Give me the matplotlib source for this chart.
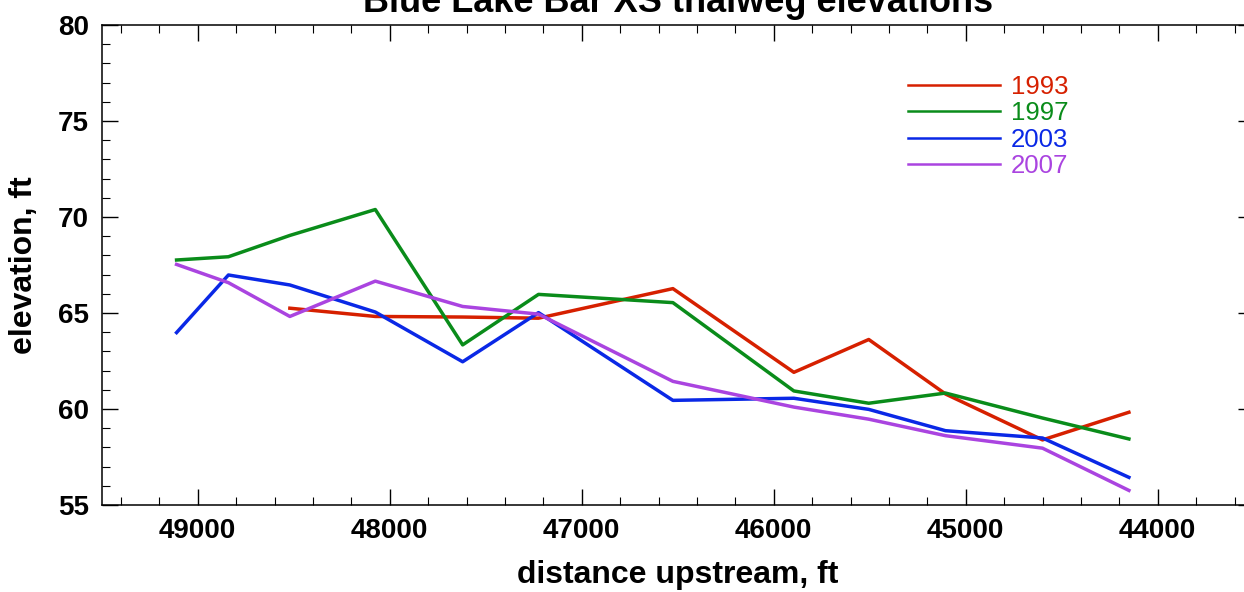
import matplotlib
matplotlib.use("Agg")
import matplotlib.pyplot as plt
from matplotlib.ticker import MultipleLocator

plt.rcParams['font.family'] = ['Liberation Sans', 'DejaVu Sans']

# cross-section locations (distance upstream, ft)
dist = [49110, 48840, 48520, 48075, 47620, 47225, 46525, 45895, 45505, 45105, 44600, 44150]

# thalweg elevations, ft (1993 survey starts at the third section)
elev_1993 = [None, None, 65.25, 64.82, 64.79, 64.73, 66.27, 61.91, 63.62, 60.78, 58.39, 59.83]
elev_1997 = [67.76, 67.93, 69.04, 70.39, 63.34, 65.97, 65.54, 60.94, 60.30, 60.83, 59.53, 58.44]
elev_2003 = [63.98, 66.98, 66.46, 65.05, 62.46, 65.02, 60.45, 60.56, 59.98, 58.87, 58.49, 56.44]
elev_2007 = [67.53, 66.58, 64.82, 66.66, 65.34, 64.94, 61.44, 60.10, 59.47, 58.61, 57.96, 55.76]

years = ['1993', '1997', '2003', '2007']
colors = ['#d62000', '#0a8c1a', '#0a28e6', '#aa44e0']

fig = plt.figure(figsize=(12.44, 5.92), dpi=100)
ax = fig.add_axes([101.7 / 1244, 87 / 592, (1253.7 - 101.7) / 1244, 480 / 592])

for yr, vals, c in zip(years, [elev_1993, elev_1997, elev_2003, elev_2007], colors):
    xs = [d for d, v in zip(dist, vals) if v is not None]
    ys = [v for v in vals if v is not None]
    ax.plot(xs, ys, color=c, lw=2.5, label=yr)

ax.set_xlim(49500, 43500)
ax.set_ylim(55, 80)
ax.xaxis.set_major_locator(MultipleLocator(1000))
ax.xaxis.set_minor_locator(MultipleLocator(200))
ax.yaxis.set_major_locator(MultipleLocator(5))
ax.yaxis.set_minor_locator(MultipleLocator(1))

ax.tick_params(which='both', direction='in', top=True, right=True)
ax.tick_params(which='major', length=11.5, width=1.0, labelsize=20, pad=9)
ax.tick_params(which='minor', length=5.8, width=0.8)
for lab in ax.get_xticklabels() + ax.get_yticklabels():
    lab.set_fontweight('bold')
for s in ax.spines.values():
    s.set_linewidth(1.1)

ax.set_xlabel('distance upstream, ft', fontsize=23, fontweight='bold', labelpad=12)
ax.set_ylabel('elevation, ft', fontsize=23, fontweight='bold', labelpad=14)
ax.set_title('Blue Lake Bar XS thalweg elevations', fontsize=26, fontweight='bold', pad=9)

ax.legend(loc='upper left', bbox_to_anchor=(907.7 / 1244, 1 - 74.7 / 592),
          bbox_transform=fig.transFigure, frameon=False, fontsize=18.5,
          handlelength=3.6, handletextpad=0.43, labelspacing=0.1,
          borderpad=0, borderaxespad=0, labelcolor='linecolor')
for h in ax.get_legend().get_lines():
    h.set_linewidth(1.8)

fig.savefig('out.png', dpi=100)
